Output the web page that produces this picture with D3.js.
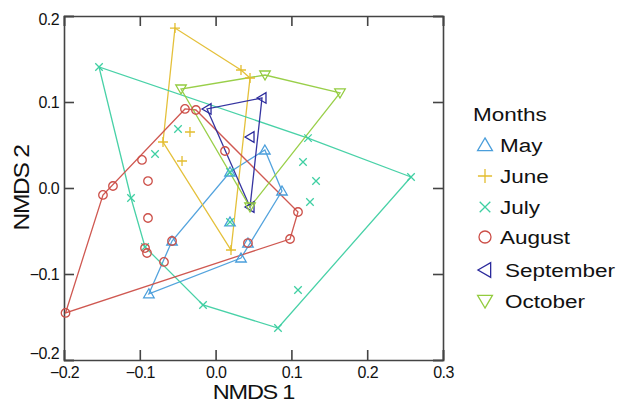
<!DOCTYPE html>
<html><head><meta charset="utf-8">
<script src="https://cdn.jsdelivr.net/npm/d3@7"></script>
<style>
html,body{margin:0;padding:0;background:#fff;}
text{font-family:"Liberation Sans",Arial,sans-serif;fill:#111;}
</style></head>
<body><svg id="c" width="618" height="403"></svg>
<script>
const months = ["May","June","July","August","September","October"];
const colors = ["#4a9edb","#e3bd2f","#3ecfa2","#cc4f48","#2b2a9c","#93cc3f"];
const xTicks = [-0.2,-0.1,0.0,0.1,0.2,0.3];
const yTicks = [-0.2,-0.1,0.0,0.1,0.2];

const mayX = [-0.088,-0.0575,0.019,0.065,0.0876,0.0427,0.0335,0.019];
const mayY = [-0.123,-0.0616,0.0186,0.0442,-0.0035,-0.064,-0.0814,-0.0395];

const juneX = [-0.0536,0.0335,0.0454,0.0203,-0.0694,-0.0338,-0.0443];
const juneY = [0.186,0.1372,0.1279,-0.0721,0.0535,0.0651,0.0314];

const julyX = [-0.1538,0.2578,0.0823,-0.0166,-0.0931,-0.1116,-0.0799,-0.0496,0.1153,0.1325,0.1245,0.1087,0.1219,0.019,0.019];
const julyY = [0.1407,0.0128,-0.1628,-0.136,-0.0686,-0.0116,0.0395,0.0686,0.0302,0.0081,-0.0163,-0.1186,0.058,0.0186,-0.0395];

const augX = [-0.198,-0.1486,-0.1354,-0.0971,-0.0404,-0.0259,0.1087,0.0982,-0.0892,-0.0892,-0.0905,-0.0931,-0.0681,0.0124,-0.0575,0.0427];
const augY = [-0.1453,-0.0081,0.0023,0.0326,0.0919,0.0907,-0.0279,-0.0593,0.0081,-0.0349,-0.0756,-0.0698,-0.086,0.043,-0.0616,-0.064];

const sepX = [-0.0113,0.0612,0.0454,0.0454];
const sepY = [0.0919,0.1047,0.0593,-0.0221];

const octX = [-0.0456,0.0652,0.1641,0.0454];
const octY = [0.1151,0.1314,0.1105,-0.0221];

const seriesX = [mayX,juneX,julyX,augX,sepX,octX];
const seriesY = [mayY,juneY,julyY,augY,sepY,octY];

const svg = d3.select("#c");
const L=64,R=443,T=16,B=360;
const x = d3.scaleLinear().domain([-0.2,0.3]).range([L,R]);
const y = d3.scaleLinear().domain([-0.2,0.2]).range([B,T]);

const triUp = {draw(c,s){const r=Math.sqrt(s)/2;c.moveTo(0,-r);c.lineTo(r*1.05,r*0.8);c.lineTo(-r*1.05,r*0.8);c.closePath();}};
const triDown = {draw(c,s){const r=Math.sqrt(s)/2;c.moveTo(0,r);c.lineTo(r*1.05,-r*0.8);c.lineTo(-r*1.05,-r*0.8);c.closePath();}};
const triLeft = {draw(c,s){const r=Math.sqrt(s)/2;c.moveTo(-r,0);c.lineTo(r*0.8,-r*1.05);c.lineTo(r*0.8,r*1.05);c.closePath();}};
const plus = {draw(c,s){const r=Math.sqrt(s)/2;c.moveTo(-r,0);c.lineTo(r,0);c.moveTo(0,-r);c.lineTo(0,r);}};
const cross = {draw(c,s){const r=Math.sqrt(s)/2*0.75;c.moveTo(-r,-r);c.lineTo(r,r);c.moveTo(-r,r);c.lineTo(r,-r);}};
const circ = {draw(c,s){const r=Math.sqrt(s)/2*0.85;c.moveTo(r,0);c.arc(0,0,r,0,2*Math.PI);}};
const symTypes = [triUp,plus,cross,circ,triLeft,triDown];

const g = svg.append("g");
const bx = g.append("g").attr("transform",`translate(0,${B})`)
  .call(d3.axisBottom(x).tickValues(xTicks).tickSize(-10).tickFormat(d3.format(".1f")));
const tx = g.append("g").attr("transform",`translate(0,${T})`)
  .call(d3.axisTop(x).tickValues(xTicks).tickSize(-10).tickFormat(""));
const ly = g.append("g").attr("transform",`translate(${L},0)`)
  .call(d3.axisLeft(y).tickValues(yTicks).tickSize(-10).tickFormat(d3.format(".1f")));
const ry = g.append("g").attr("transform",`translate(${R},0)`)
  .call(d3.axisRight(y).tickValues(yTicks).tickSize(-10).tickFormat(""));
[bx,tx,ly,ry].forEach(a=>{
  a.select(".domain").attr("stroke","#444").attr("stroke-width",1.6);
  a.selectAll(".tick line").attr("stroke","#444").attr("stroke-width",1.6);
  a.selectAll(".tick text").style("font-size","16px").style("font-family","'Liberation Sans',Arial,sans-serif").attr("fill","#111").style("letter-spacing","-0.6px");
});
bx.selectAll(".tick text").attr("y",7);
ly.selectAll(".tick text").attr("x",-5);
ly.selectAll(".tick").filter(d=>d===-0.2).select("text").attr("dy","-0.1em");
ly.selectAll(".tick").filter(d=>d===0.2).select("text").attr("dy","0.55em");

const line = d3.line().curve(d3.curveLinearClosed);
months.forEach((m,i)=>{
  const pts = seriesX[i].map((v,j)=>[x(v),y(seriesY[i][j])]);
  const hull = d3.polygonHull(pts);
  svg.append("path").attr("d",line(hull)).attr("fill","none")
     .attr("stroke",colors[i]).attr("stroke-width",1.3).attr("opacity",0.95);
});
months.forEach((m,i)=>{
  const pts = seriesX[i].map((v,j)=>[x(v),y(seriesY[i][j])]);
  svg.append("g").selectAll("path").data(pts).join("path")
    .attr("transform",d=>`translate(${d[0]},${d[1]})`)
    .attr("d",d3.symbol().type(symTypes[i]).size(100))
    .attr("fill","none").attr("stroke",colors[i]).attr("stroke-width",1.3);
});

svg.append("text").attr("transform",`translate(${(L+R)/2},399) scale(1.12,1)`).attr("text-anchor","middle")
  .style("font-size","21px").style("letter-spacing","-1.1px").text("NMDS 1");
svg.append("text").attr("transform",`translate(29,${(T+B)/2}) rotate(-90) scale(1.12,1)`).attr("text-anchor","middle")
  .style("font-size","22px").style("letter-spacing","-1.2px").text("NMDS 2");

const lg = svg.append("g");
lg.append("text").attr("transform","translate(473,121) scale(1.25,1)").style("font-size","18px").text("Months");
const legY = [145,176,207,237,270,301];
const legTX = [500,500,500,500,505,505];
months.forEach((m,i)=>{
  lg.append("path").attr("transform",`translate(485,${legY[i]})`)
    .attr("d",d3.symbol().type(symTypes[i]).size(200))
    .attr("fill","none").attr("stroke",colors[i]).attr("stroke-width",1.3);
  lg.append("text").attr("transform",`translate(${legTX[i]},${legY[i]+7}) scale(1.25,1)`)
    .style("font-size","18px").text(m);
});
</script></body></html>
